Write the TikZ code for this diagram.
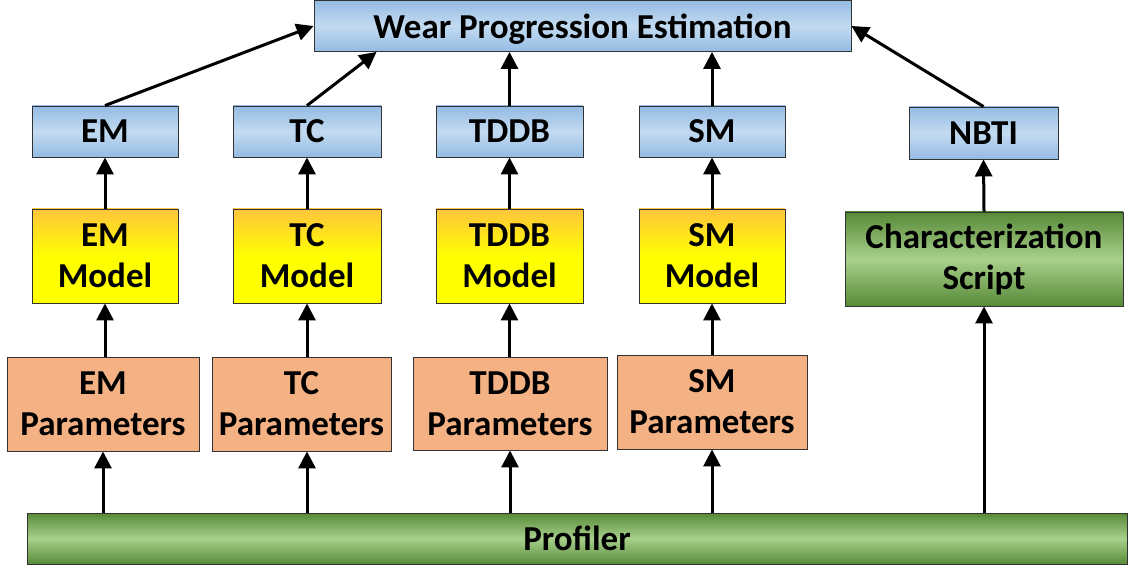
\documentclass[tikz,border=0pt]{standalone}
\usepackage{fontspec}
\setmainfont{Carlito}
\usetikzlibrary{arrows.meta,calc}
\definecolor{bluemid}{HTML}{C3DBF1}
\definecolor{blueedge}{HTML}{94BBE3}
\definecolor{yeltop}{HTML}{FFC43C}
\definecolor{yelbot}{HTML}{FFFF00}
\definecolor{paramfill}{HTML}{F4B183}
\definecolor{greenedge}{HTML}{578A37}
\definecolor{greenmid}{HTML}{A8D08C}
\begin{document}
\begin{tikzpicture}[x=1pt,y=-1pt,
  box/.style={draw=black!80,line width=0.9pt,inner sep=0pt,align=center,
    font=\fontsize{35}{41}\selectfont\bfseries},
  bluebox/.style={box,top color=blueedge,bottom color=blueedge,middle color=bluemid},
  modelbox/.style={box,top color=yeltop,bottom color=yelbot,middle color=yelbot},
  parambox/.style={box,fill=paramfill},
  greenbox/.style={box,top color=greenedge,bottom color=greenedge,middle color=greenmid},
  arr/.style={line width=3pt,-{Triangle[length=17pt,width=17pt]}}]
\useasboundingbox (0,0) rectangle (1131,569);
% top
\node[bluebox,minimum width=537,minimum height=51,text depth=0pt] (wpe) at (582.5,26) {Wear Progression Estimation};
% mechanism labels
\node[bluebox,minimum width=146,minimum height=51] (em) at (105,131.5) {EM};
\node[bluebox,minimum width=148,minimum height=51] (tc) at (307,131.5) {TC};
\node[bluebox,minimum width=147,minimum height=51] (tddb) at (509.5,131.5) {TDDB};
\node[bluebox,minimum width=146,minimum height=51] (sm) at (712,131.5) {SM};
\node[bluebox,minimum width=149,minimum height=52] (nbti) at (983.5,133) {NBTI};
% models
\node[modelbox,minimum width=146,minimum height=94] (emm) at (105,256) {EM\\Model};
\node[modelbox,minimum width=148,minimum height=94] (tcm) at (307,256) {TC\\Model};
\node[modelbox,minimum width=147,minimum height=94] (tddbm) at (509.5,256) {TDDB\\Model};
\node[modelbox,minimum width=146,minimum height=94] (smm) at (712,256) {SM\\Model};
\node[greenbox,minimum width=278,minimum height=94] (cs) at (984,259) {Characterization\\Script};
% parameters
\node[parambox,minimum width=192,minimum height=94] (emp) at (103,404) {EM\\Parameters};
\node[parambox,minimum width=179,minimum height=94] (tcp) at (301.5,404) {TC\\Parameters};
\node[parambox,minimum width=194,minimum height=93] (tddbp) at (510,403.5) {TDDB\\Parameters};
\node[parambox,minimum width=190,minimum height=94] (smp) at (712,402) {SM\\Parameters};
% profiler
\node[greenbox,minimum width=1100,minimum height=51] (prof) at (577,538.5) {Profiler};
\coordinate (tcin) at ($(wpe.south west)+(63,0)$);
% arrows
\draw[arr] (emp.south |- prof.north) -- (emp.south);
\draw[arr] (tcm.south |- prof.north) -- (tcp.south -| tcm.south);
\draw[arr] (tddbp.south |- prof.north) -- (tddbp.south);
\draw[arr] (smp.south |- prof.north) -- (smp.south);
\draw[arr] (cs.south |- prof.north) -- (cs.south);
\draw[arr] (emm.south |- emp.north) -- (emm.south);
\draw[arr] (tcm.south |- tcp.north) -- (tcm.south);
\draw[arr] (tddbm.south |- tddbp.north) -- (tddbm.south);
\draw[arr] (smm.south |- smp.north) -- (smm.south);
\draw[arr] (emm.north) -- (em.south);
\draw[arr] (tcm.north) -- (tc.south);
\draw[arr] (tddbm.north) -- (tddb.south);
\draw[arr] (smm.north) -- (sm.south);
\draw[arr] (cs.north) -- (nbti.south);
\draw[arr] (em.north) -- (wpe.west);
\draw[arr] (tc.north) -- (tcin);
\draw[arr] (tddb.north) -- (tddb.north |- wpe.south);
\draw[arr] (sm.north) -- (sm.north |- wpe.south);
\draw[arr] (nbti.north) -- (wpe.east);
\end{tikzpicture}
\end{document}
